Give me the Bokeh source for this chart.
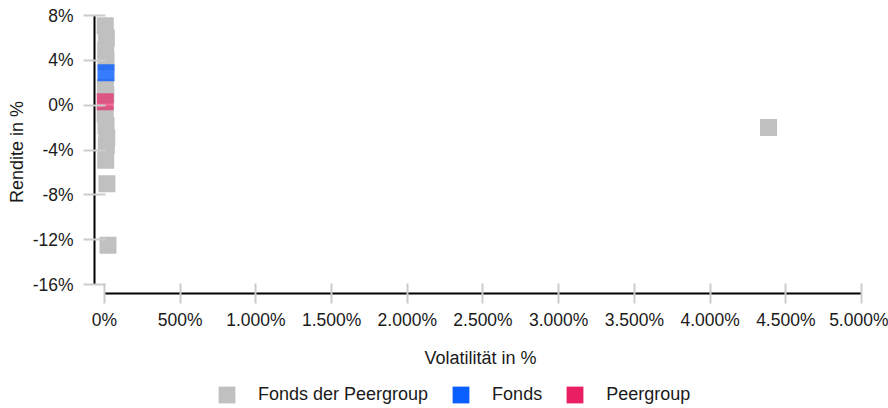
from bokeh.plotting import figure
from bokeh.layouts import column
from bokeh.models import ColumnDataSource, FixedTicker, Legend, LegendItem, Range1d
from bokeh.embed import file_html
from bokeh.resources import INLINE

# ---- data (values in %) ----
peer_vol = [5, 12, 8, 10, 6, 9, 5, 10, 15, 12, 8, 16, 23, 4386]
peer_ret = [7.1, 6.0, 4.9, 3.9, 1.6, 0.9, -0.8, -1.8, -2.9, -3.6, -4.9, -7.0, -12.5, -2.0]
fonds_vol = [10]
fonds_ret = [2.9]
peergroup_vol = [5]
peergroup_ret = [0.3]

x_ticks = [0, 500, 1000, 1500, 2000, 2500, 3000, 3500, 4000, 4500, 5000]
x_tick_labels = ["0%", "500%", "1.000%", "1.500%", "2.000%", "2.500%",
                 "3.000%", "3.500%", "4.000%", "4.500%", "5.000%"]
y_ticks = [8, 4, 0, -4, -8, -12, -16]
y_tick_labels = ["8%", "4%", "0%", "-4%", "-8%", "-12%", "-16%"]

series_names = ["Fonds der Peergroup", "Fonds", "Peergroup"]
series_colors = ["#c0c0c0", "#0a5fff", "#e91e63"]

FONT = "Liberation Sans"

p = figure(width=888, height=378, output_backend="svg", toolbar_location=None,
           x_range=Range1d(-66, 5033), y_range=Range1d(-16.8, 8.45),
           min_border_left=94, min_border_right=22, min_border_top=10,
           min_border_bottom=85)
p.outline_line_color = None
p.grid.visible = False

src_peer = ColumnDataSource(dict(x=peer_vol, y=peer_ret))
src_fonds = ColumnDataSource(dict(x=fonds_vol, y=fonds_ret))
src_pg = ColumnDataSource(dict(x=peergroup_vol, y=peergroup_ret))
sources = [src_peer, src_fonds, src_pg]

p.scatter("x", "y", source=src_peer, marker="square", size=17,
          fill_color=series_colors[0], line_color=None)
p.scatter("x", "y", source=src_fonds, marker="square", size=17,
          fill_color=series_colors[1], fill_alpha=0.82, line_color=None)
p.scatter("x", "y", source=src_pg, marker="square", size=17,
          fill_color=series_colors[2], fill_alpha=0.66, line_color=None)

for ax, ticks, labels in ((p.xaxis[0], x_ticks, x_tick_labels), (p.yaxis[0], y_ticks, y_tick_labels)):
    ax.ticker = FixedTicker(ticks=ticks)
    ax.major_label_overrides = {t: l for t, l in zip(ticks, labels)}
    ax.minor_tick_line_color = None
    ax.major_tick_line_color = "#cccccc"
    ax.major_tick_line_width = 2
    ax.axis_line_color = "black"
    ax.axis_line_width = 2
    ax.major_label_text_font = FONT
    ax.major_label_text_font_size = "17.5px"
    ax.major_label_text_color = "#1a1a1a"
    ax.axis_label_text_font = FONT
    ax.axis_label_text_font_size = "18px"
    ax.axis_label_text_font_style = "normal"
    ax.axis_label_text_color = "#1a1a1a"

p.xaxis.major_tick_in = 10
p.xaxis.major_tick_out = 10
p.yaxis.major_tick_in = 11
p.yaxis.major_tick_out = 11
p.xaxis.bounds = (0, 5000)
p.yaxis.bounds = (-16, 8)
p.xaxis.axis_label = "Volatilität in %"
p.yaxis.axis_label = "Rendite in %"
p.xaxis.major_label_standoff = 6
p.xaxis.axis_label_standoff = 15
p.yaxis.major_label_standoff = 10
p.yaxis.axis_label_standoff = 3

# ---- legend strip (its glyphs use the same sources; points lie outside this strip's ranges) ----
p2 = figure(width=888, height=30, output_backend="svg", toolbar_location=None,
            x_range=Range1d(-2, -1), y_range=Range1d(-2, -1),
            x_axis_location=None, y_axis_location=None, min_border=0)
p2.outline_line_color = None
p2.grid.visible = False

legend_items = []
for name, col, src in zip(series_names, series_colors, sources):
    r = p2.rect(x="x", y="y", width=0.1, height=0.1, source=src,
                fill_color=col, line_color=None)
    legend_items.append(LegendItem(label=name, renderers=[r]))

legend = Legend(items=legend_items, orientation="horizontal", location=(122, 3),
                glyph_width=21, glyph_height=21,
                label_standoff=21, spacing=22,
                padding=0, margin=0, border_line_color=None, background_fill_alpha=0,
                label_text_font=FONT, label_text_font_size="18px",
                label_text_color="#1a1a1a")
p2.add_layout(legend, "center")

open("out.html", "w").write(file_html(column(p, p2, spacing=0), INLINE))
